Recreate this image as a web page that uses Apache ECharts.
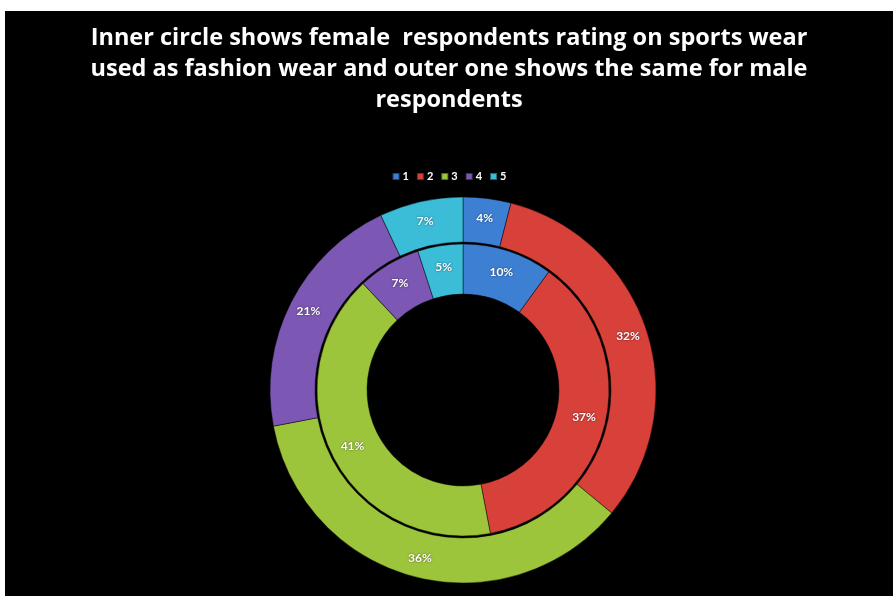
<!DOCTYPE html>
<html>
<head>
<meta charset="utf-8">
<script src="https://cdn.jsdelivr.net/npm/echarts@6/dist/echarts.min.js"></script>
<style>
  html, body { margin: 0; padding: 0; background: #ffffff; width: 893px; height: 596px; overflow: hidden; }
  #chart { position: absolute; left: 5px; top: 11px; width: 888px; height: 585px; background: #000000; }
</style>
</head>
<body>
<div id="chart"></div>
<script>
// Rating scale 1..5
const ratings = ['1', '2', '3', '4', '5'];
// Share of respondents per rating (%)
const femaleShare = [10, 37, 41, 7, 5];
const maleShare = [4, 32, 36, 21, 7];
const ratingColors = ['#3d7fd2', '#d8403a', '#9dc53c', '#7c57b3', '#3bbcd7'];

const titleText = 'Inner circle shows female  respondents rating on sports wear\nused as fashion wear and outer one shows the same for male\nrespondents';

function toData(values) {
  return ratings.map((name, i) => ({ name: name, value: values[i] }));
}

const labelStyle = {
  show: true,
  position: 'inside',
  formatter: '{c}%',
  color: '#ffffff',
  fontFamily: 'Lato',
  fontWeight: 'bold',
  fontSize: 12,
  textShadowColor: 'rgba(0,0,0,0.6)',
  textShadowBlur: 2
};

const chart = echarts.init(document.getElementById('chart'));
chart.setOption({
  backgroundColor: '#000000',
  color: ratingColors,
  title: {
    text: titleText,
    left: 'center',
    top: 7,
    padding: [5, 34, 5, 0],
    textStyle: {
      color: '#ffffff',
      fontFamily: 'Open Sans',
      fontWeight: 'bold',
      fontSize: 23.5,
      lineHeight: 31
    }
  },
  legend: {
    data: ratings,
    top: 155,
    left: 'center',
    itemWidth: 7,
    itemHeight: 7,
    itemGap: 7,
    icon: 'rect',
    textStyle: { color: '#ffffff', fontFamily: 'Lato', fontWeight: 'bold', fontSize: 11, padding: [0, 0, 0, -2] }
  },
  series: [
    {
      name: 'Female',
      type: 'pie',
      center: [458, 379],
      radius: [96, 146],
      startAngle: 90,
      clockwise: true,
      avoidLabelOverlap: false,
      itemStyle: { borderColor: 'rgba(0,0,0,0.45)', borderWidth: 1 },
      label: labelStyle,
      labelLine: { show: false },
      emphasis: { disabled: true },
      data: toData(femaleShare)
    },
    {
      name: 'Male',
      type: 'pie',
      center: [458, 379],
      radius: [148, 193],
      startAngle: 90,
      clockwise: true,
      avoidLabelOverlap: false,
      itemStyle: { borderColor: 'rgba(0,0,0,0.45)', borderWidth: 1 },
      label: labelStyle,
      labelLine: { show: false },
      emphasis: { disabled: true },
      data: toData(maleShare)
    }
  ]
});
</script>
</body>
</html>
